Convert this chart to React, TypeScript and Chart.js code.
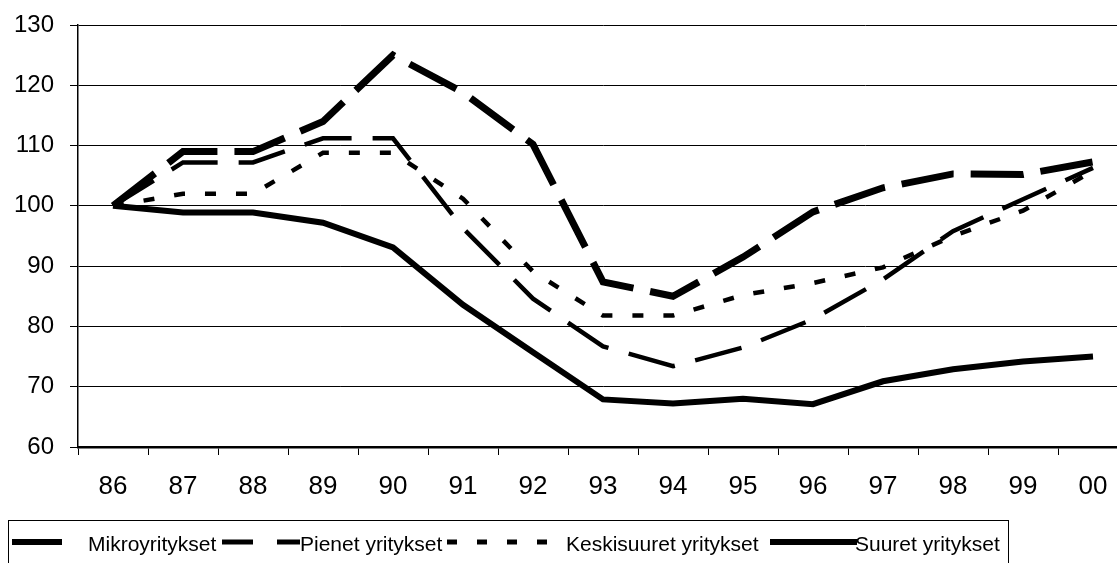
import React, { useEffect, useRef } from "react";
import { Chart, registerables } from "chart.js";

Chart.register(...registerables);

const years = ["86", "87", "88", "89", "90", "91", "92", "93", "94", "95", "96", "97", "98", "99", "00"];
const mikroyritykset = [100, 109, 109, 114, 125, 118.8, 110.2, 87.4, 85, 91.5, 99, 103, 105.3, 105.2, 107.3];
const pienetYritykset = [100, 107.2, 107.2, 111.2, 111.2, 96.3, 84.6, 76.7, 73.4, 76.5, 81.2, 87.8, 95.8, 101.1, 106.3];
const keskisuuretYritykset = [100, 102, 102, 108.8, 108.8, 101.2, 89.1, 81.8, 81.8, 85.2, 87.2, 89.8, 95, 99.2, 105.8];
const suuretYritykset = [100, 98.9, 98.9, 97.2, 93.1, 83.6, 75.7, 67.9, 67.2, 68, 67.1, 70.9, 72.9, 74.2, 75];
const yTicks = [60, 70, 80, 90, 100, 110, 120, 130];

const seriesLabels = ["Mikroyritykset", "Pienet yritykset", "Keskisuuret yritykset", "Suuret yritykset"];

const FONT = '"Liberation Sans", Arial, sans-serif';

const legendPlugin = {
  id: "boxLegend",
  afterDraw(chart: any) {
    const ctx = chart.ctx as CanvasRenderingContext2D;
    ctx.save();
    ctx.strokeStyle = "#000";
    ctx.lineWidth = 1;
    ctx.strokeRect(8.5, 520.5, 1000, 80);
    const items = [
      { x0: 12, x1: 62, dash: [] as number[], w: 6, tx: 88 },
      { x0: 222, x1: 300, dash: [31, 24], w: 5, tx: 300 },
      { x0: 447, x1: 555, dash: [10, 20], w: 5, tx: 566 },
      { x0: 770, x1: 857, dash: [] as number[], w: 6, tx: 855 },
    ];
    const ly = 542;
    items.forEach((it, i) => {
      ctx.beginPath();
      ctx.setLineDash(it.dash);
      ctx.lineCap = "butt";
      ctx.lineWidth = it.w;
      ctx.strokeStyle = "#000";
      ctx.moveTo(it.x0, ly);
      ctx.lineTo(it.x1, ly);
      ctx.stroke();
      ctx.setLineDash([]);
      ctx.fillStyle = "#000";
      ctx.font = `21px ${FONT}`;
      ctx.textBaseline = "alphabetic";
      ctx.textAlign = "left";
      ctx.fillText(chart.data.datasets[i].label, it.tx, 551);
    });
    ctx.restore();
  },
};

export default function App() {
  const canvasRef = useRef<HTMLCanvasElement | null>(null);

  useEffect(() => {
    if (!canvasRef.current) return;
    const chart = new Chart(canvasRef.current, {
      type: "line",
      data: {
        labels: years,
        datasets: [
          {
            label: seriesLabels[0],
            data: mikroyritykset,
            borderColor: "#000",
            borderWidth: 7,
            borderDash: [53, 17],
            pointRadius: 0,
            tension: 0,
            fill: false,
          },
          {
            label: seriesLabels[1],
            data: pienetYritykset,
            borderColor: "#000",
            borderWidth: 4.5,
            borderDash: [48, 21],
            pointRadius: 0,
            tension: 0,
            fill: false,
          },
          {
            label: seriesLabels[2],
            data: keskisuuretYritykset,
            borderColor: "#000",
            borderWidth: 4.5,
            borderDash: [11, 20],
            pointRadius: 0,
            tension: 0,
            fill: false,
          },
          {
            label: seriesLabels[3],
            data: suuretYritykset,
            borderColor: "#000",
            borderWidth: 6,
            pointRadius: 0,
            tension: 0,
            fill: false,
          },
        ],
      },
      options: {
        animation: false,
        responsive: false,
        events: [],
        layout: { padding: { top: 25, right: 12, bottom: 66, left: 0 } },
        plugins: {
          legend: { display: false },
          tooltip: { enabled: false },
          title: { display: false },
        },
        scales: {
          x: {
            type: "category",
            offset: true,
            grid: {
              offset: true,
              drawOnChartArea: false,
              drawTicks: true,
              tickLength: 8,
              color: "#000",
            },
            border: { display: true, color: "#000", width: 2.5 },
            ticks: {
              color: "#000",
              font: { family: FONT, size: 26 },
              padding: 16,
              maxRotation: 0,
              autoSkip: false,
            },
            afterFit(scale: any) {
              scale.height = 50;
              scale.paddingLeft = 0;
              scale.paddingRight = 0;
            },
          },
          y: {
            min: 60,
            max: 130,
            afterBuildTicks(scale: any) {
              scale.ticks = yTicks.map((v) => ({ value: v }));
            },
            grid: {
              color: "#000",
              lineWidth: 1,
              drawTicks: true,
              tickLength: 8,
            },
            border: { display: true, color: "#000", width: 1.5 },
            ticks: {
              color: "#000",
              font: { family: FONT, size: 24 },
              padding: 16,
            },
            afterFit(scale: any) {
              scale.width = 78;
              scale.paddingTop = 5;
              scale.paddingBottom = 5;
            },
          },
        },
      },
      plugins: [legendPlugin],
    });
    return () => chart.destroy();
  }, []);

  return (
    <div
      style={{
        position: "absolute",
        left: 0,
        top: 0,
        width: 1117,
        height: 563,
        overflow: "hidden",
        background: "#fff",
      }}
    >
      <canvas ref={canvasRef} width={1140} height={563} style={{ display: "block" }} />
    </div>
  );
}
